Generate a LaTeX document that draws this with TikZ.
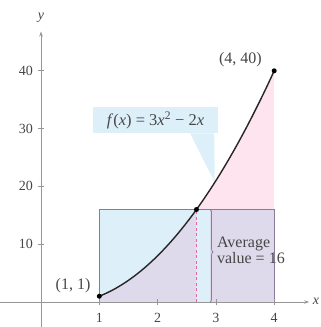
\documentclass[tikz,border=0pt]{standalone}
\usepackage{fontspec}
\setmainfont{Liberation Serif}
\usetikzlibrary{decorations.pathreplacing,arrows.meta}
\definecolor{axisgray}{RGB}{150,150,150}
\definecolor{txtgray}{RGB}{70,70,70}
\definecolor{lblue}{RGB}{221,240,250}
\definecolor{lpink}{RGB}{253,228,238}
\definecolor{lpurple}{RGB}{222,218,236}
\definecolor{rectline}{RGB}{135,125,155}
\definecolor{dpink}{RGB}{230,100,160}
\begin{document}
\begin{tikzpicture}[x=58.3pt,y=5.78pt,
  axis/.style={draw=axisgray,line width=0.8pt},
  ticklbl/.style={text=txtgray,font=\fontsize{14}{15}\selectfont,inner sep=1pt},
  lbl/.style={text=txtgray,font=\fontsize{16}{16}\selectfont,inner sep=1pt},
  dot/.style={circle,fill=black,inner sep=0pt,minimum size=5pt}]
\useasboundingbox (-0.7033,-4.325) rectangle (4.8027,52.25);
\pgfmathsetmacro{\cc}{8/3}
% fills
\fill[lpink] (1,0) -- plot[domain=1:4,samples=60] (\x,{3*\x*\x-2*\x}) -- (4,0) -- cycle;
\fill[lblue] (1,0) rectangle (4,16);
\fill[lpurple] (1,0) -- plot[domain=1:\cc,samples=40] (\x,{3*\x*\x-2*\x}) -- (4,16) -- (4,0) -- cycle;
\fill[lblue] (\cc,0) rectangle (2.9,16);
% callout
\node[fill=lblue,inner sep=2pt,minimum width=125pt,minimum height=26pt,font=\fontsize{16.5}{17}\selectfont,text=txtgray] (fl) at (1.964,31.45) {\textit{f}(\textit{x}) = 3\textit{x}\textsuperscript{2} − 2\textit{x}};
\coordinate (tip) at (2.98,20.68);
\fill[lblue] ([xshift=-28pt]fl.south east) -- (tip) -- ([xshift=-4pt]fl.south east) -- cycle;
% rectangle border
\draw[rectline,line width=0.8pt] (1,0) -- (1,16) -- (4,16) -- (4,0);
% dashed line
\coordinate (c0) at (\cc,0);
\coordinate (c16) at (\cc,16);
\draw[dpink,line width=0.9pt,dash pattern=on 3pt off 2.5pt] (c0) -- (c16);
% axes
\coordinate (xs) at (-0.7033,0);
\coordinate (xe) at (4.6,0);
\coordinate (ys) at (0,-4.3);
\coordinate (ye) at (0,46.8);
\draw[axis,-{Stealth[length=5pt,width=3.5pt]}] (xs) -- (xe);
\draw[axis,-{Stealth[length=5pt,width=3.5pt]}] (ys) -- (ye);
\node[ticklbl,anchor=west,inner sep=0pt] (xl) at (4.66,0.2) {\textit{x}};
\node[ticklbl] (yl) at (0,49.2) {\textit{y}};
\foreach \i in {1,2,3,4} {
  \draw[axisgray,line width=0.8pt] (\i,-0.6) -- (\i,0.6);
  \node[ticklbl] (xt\i) at (\i,-2.75) {\i};
}
\foreach \j in {10,20,30,40} {
  \draw[axisgray,line width=0.8pt] (-0.055,\j) -- (0.055,\j);
  \node[ticklbl,anchor=east] (yt\j) at (-0.12,\j) {\j};
}
% curve
\draw[black!85,line width=1.4pt] plot[domain=1:4,samples=80] (\x,{3*\x*\x-2*\x});
\node[dot] (p1) at (1,1) {};
\node[dot] (p4) at (4,40) {};
\node[dot] (pc) at (\cc,16) {};
\node[lbl] (l1) at (0.55,2.9) {(1, 1)};
\node[lbl] (l4) at (3.42,42.0) {(4, 40)};
% brace
\coordinate (bt) at (2.9,16);
\coordinate (bb) at (2.9,0);
\draw[rectline,line width=0.8pt,decorate,decoration={brace,amplitude=3pt,aspect=0.46}] (bt) -- (bb);
\node[lbl,anchor=west,align=left] (avg) at (3.0,8.9) {Average\\value = 16};
\end{tikzpicture}
\end{document}
